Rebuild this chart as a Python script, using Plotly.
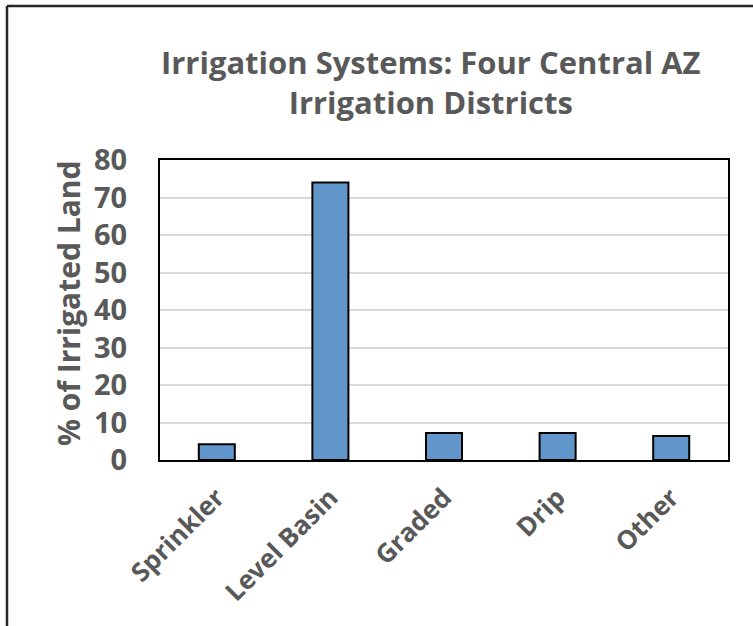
import plotly.graph_objects as go

# Share of irrigated land by irrigation system
systems = ["Sprinkler", "Level Basin", "Graded", "Drip", "Other"]
percent_land = [4.2, 74.0, 7.2, 7.2, 6.4]
y_ticks = [0, 10, 20, 30, 40, 50, 60, 70, 80]

W, H = 753, 626
L, R, T, B = 160, 25, 160, 166
pw, ph = W - L - R, H - T - B

def px_x(x):
    return (x - L) / pw

def px_y(y):
    return (H - B - y) / ph

GRAY = "#595959"
FONT = "Open Sans"

fig = go.Figure(
    go.Bar(
        x=systems,
        y=percent_land,
        marker=dict(color="#6096c9", line=dict(color="#000000", width=2)),
        hoverinfo="x+y",
    )
)

fig.update_layout(
    width=W,
    height=H,
    margin=dict(l=L, r=R, t=T, b=B),
    paper_bgcolor="white",
    plot_bgcolor="white",
    bargap=0.683,
    showlegend=False,
    font=dict(family=FONT, color=GRAY),
)

fig.update_yaxes(
    range=[0, 80],
    tickvals=y_ticks,
    showgrid=True,
    gridcolor="#d9d9d9",
    gridwidth=1.5,
    zeroline=False,
    showline=True,
    linecolor="#000000",
    linewidth=2,
    mirror=True,
    ticks="",
    ticklabelstandoff=25,
    tickfont=dict(family=FONT, size=29, color=GRAY, weight="bold"),
)

fig.update_xaxes(
    showgrid=False,
    showline=True,
    linecolor="#000000",
    linewidth=2,
    mirror=True,
    ticks="",
    tickangle=-45,
    ticklabelstandoff=10,
    tickfont=dict(family=FONT, size=26, color=GRAY, weight="bold"),
)

# Chart title
fig.add_annotation(
    xref="paper", yref="paper",
    x=px_x(431), y=px_y(82),
    xanchor="center", yanchor="middle",
    text="Irrigation Systems: Four Central AZ<br>Irrigation Districts",
    showarrow=False,
    font=dict(family=FONT, size=31, color=GRAY, weight="bold"),
)

# Y-axis title
fig.add_annotation(
    xref="paper", yref="paper",
    x=px_x(68), y=px_y(303),
    xanchor="center", yanchor="middle",
    text="% of Irrigated Land",
    textangle=-90,
    showarrow=False,
    font=dict(family=FONT, size=30, color=GRAY, weight="bold"),
)

# Outer chart frame (top and left edges)
frame = dict(type="line", xref="paper", yref="paper",
             line=dict(color="#262626", width=2.5), layer="above")
fig.add_shape(x0=px_x(7), x1=px_x(W), y0=px_y(6), y1=px_y(6), **frame)
fig.add_shape(x0=px_x(7), x1=px_x(7), y0=px_y(6), y1=px_y(H), **frame)

fig.write_html("out.html")
